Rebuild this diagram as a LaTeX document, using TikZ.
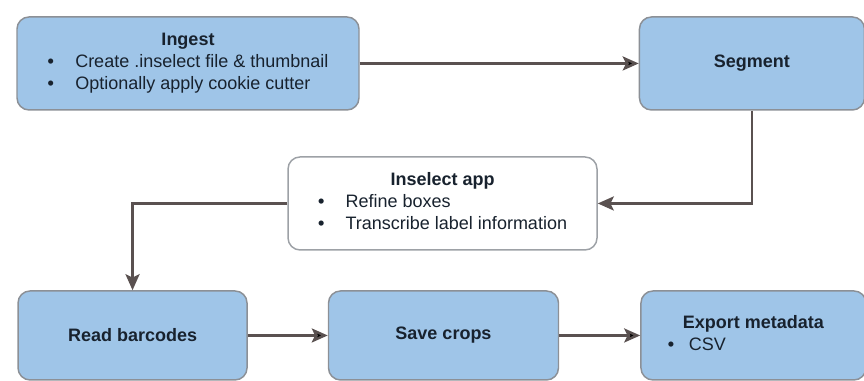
\documentclass[tikz,border=0pt]{standalone}
\usepackage{fontspec}
\setmainfont{Liberation Sans}
\usetikzlibrary{arrows.meta}
\usetikzlibrary{positioning}
\definecolor{boxblue}{HTML}{9FC5E8}
\definecolor{boxline}{HTML}{8C9096}
\definecolor{flowline}{HTML}{5A5150}
\definecolor{inktext}{HTML}{18222E}
\newcommand{\bul}{\textbf{\textbullet}}

\begin{document}
\begin{tikzpicture}[->,>={Stealth[length=12pt,width=10.5pt,inset=2.5pt]},x=1pt,y=1pt,
  step node/.style={rectangle,rounded corners=9pt,draw=boxline,line width=1.1pt,
    fill=boxblue,text=inktext,inner sep=0pt,minimum height=69.75pt,
    font=\fontsize{13.5}{16.5}\selectfont},
  app node/.style={step node,fill=white,draw=boxline!85},
  flow/.style={draw=flowline,line width=1.9pt}]

  \useasboundingbox (0,0) rectangle (648,-285.75);

  \node[step node,minimum width=256.5pt] (ingest) at (141,-47.6)
    {\begin{tabular}{@{}l@{\hspace{16pt}}l@{}}
      \multicolumn{2}{c}{\textbf{Ingest}}\\
      \bul & Create .inselect file \& thumbnail\\
      \bul & Optionally apply cookie cutter
    \end{tabular}};
  \node[step node,minimum width=168.75pt] (segment) [right=209.25pt of ingest] {\textbf{Segment}};
  \node[app node,minimum width=231.75pt] (inselect) at (331.9,-152.6)
    {\begin{tabular}{@{}l@{\hspace{16pt}}l@{}}
      \multicolumn{2}{c}{\textbf{Inselect app}}\\
      \bul & Refine boxes\\
      \bul & Transcribe label information
    \end{tabular}};
  \node[step node,minimum width=171.75pt,minimum height=66.75pt] (read) at (99.4,-251.6) {\textbf{Read barcodes}};
  \node[step node,minimum width=172.5pt,minimum height=66.75pt] (save) [right=60pt of read] {\textbf{Save crops}};
  \node[step node,minimum width=168.75pt,minimum height=66.75pt] (export) [right=60.75pt of save]
    {\begin{tabular}{@{}l@{}}
      \textbf{Export metadata}\\
      \hspace*{4.5pt}\llap{\bul\hspace{11pt}}CSV
    \end{tabular}};

  \path[flow]
    (ingest) edge (segment)
    (read) edge (save)
    (save) edge (export);
  \draw[flow] (segment.south) |- (inselect.east);
  \draw[flow] (inselect.west) -| (read.north);
\end{tikzpicture}
\end{document}
